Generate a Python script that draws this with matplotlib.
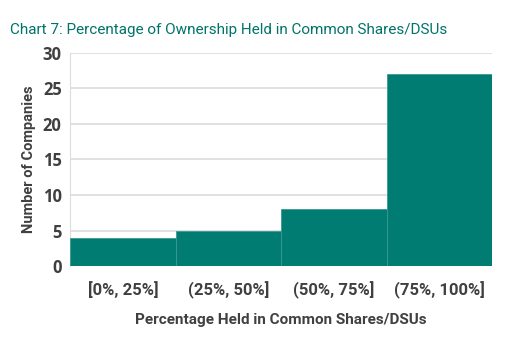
import numpy as np
import matplotlib.pyplot as plt

# ownership buckets and number of companies in each
bins = ["[0%, 25%]", "(25%, 50%]", "(50%, 75%]", "(75%, 100%]"]
counts = [4, 5, 8, 27]
yticks = [0, 5, 10, 15, 20, 25, 30]

teal = "#007c73"
grey = "#404040"

fig = plt.figure(figsize=(5.31, 3.39), dpi=100)
ax = fig.add_axes([0.132, 0.215, 0.795, 0.629])

x = np.arange(len(bins))
ax.bar(x, counts, width=1.0, color=teal, edgecolor="#3a9891", linewidth=0.6, zorder=3)

ax.set_xlim(-0.5, len(bins) - 0.5)
ax.set_ylim(0, 30)
ax.set_yticks(yticks)
ax.set_yticklabels([str(t) for t in yticks], fontsize=12, fontweight="bold",
                   color=grey, family="Open Sans")
ax.set_xticks(x)
ax.set_xticklabels(bins, fontsize=12, fontweight="bold", color=grey, family="Roboto")
ax.tick_params(length=0)
ax.tick_params(axis="x", pad=11)
ax.tick_params(axis="y", pad=6)

ax.grid(axis="y", color="#dcdcdc", linewidth=1.2, zorder=0)
for s in ["top", "right", "bottom"]:
    ax.spines[s].set_visible(False)
ax.spines["left"].set_color("#dcdcdc")

ax.set_ylabel("Number of Companies", fontsize=10.5, fontweight="bold", color=grey,
              family="Roboto", labelpad=5)
ax.set_xlabel("Percentage Held in Common Shares/DSUs", fontsize=11, fontweight="bold",
              color=grey, family="Roboto", labelpad=10)

fig.text(0.019, 0.9, "Chart 7: Percentage of Ownership Held in Common Shares/DSUs",
         fontsize=11, color="#00736b", family="Roboto")

fig.savefig("out.png", dpi=100)
